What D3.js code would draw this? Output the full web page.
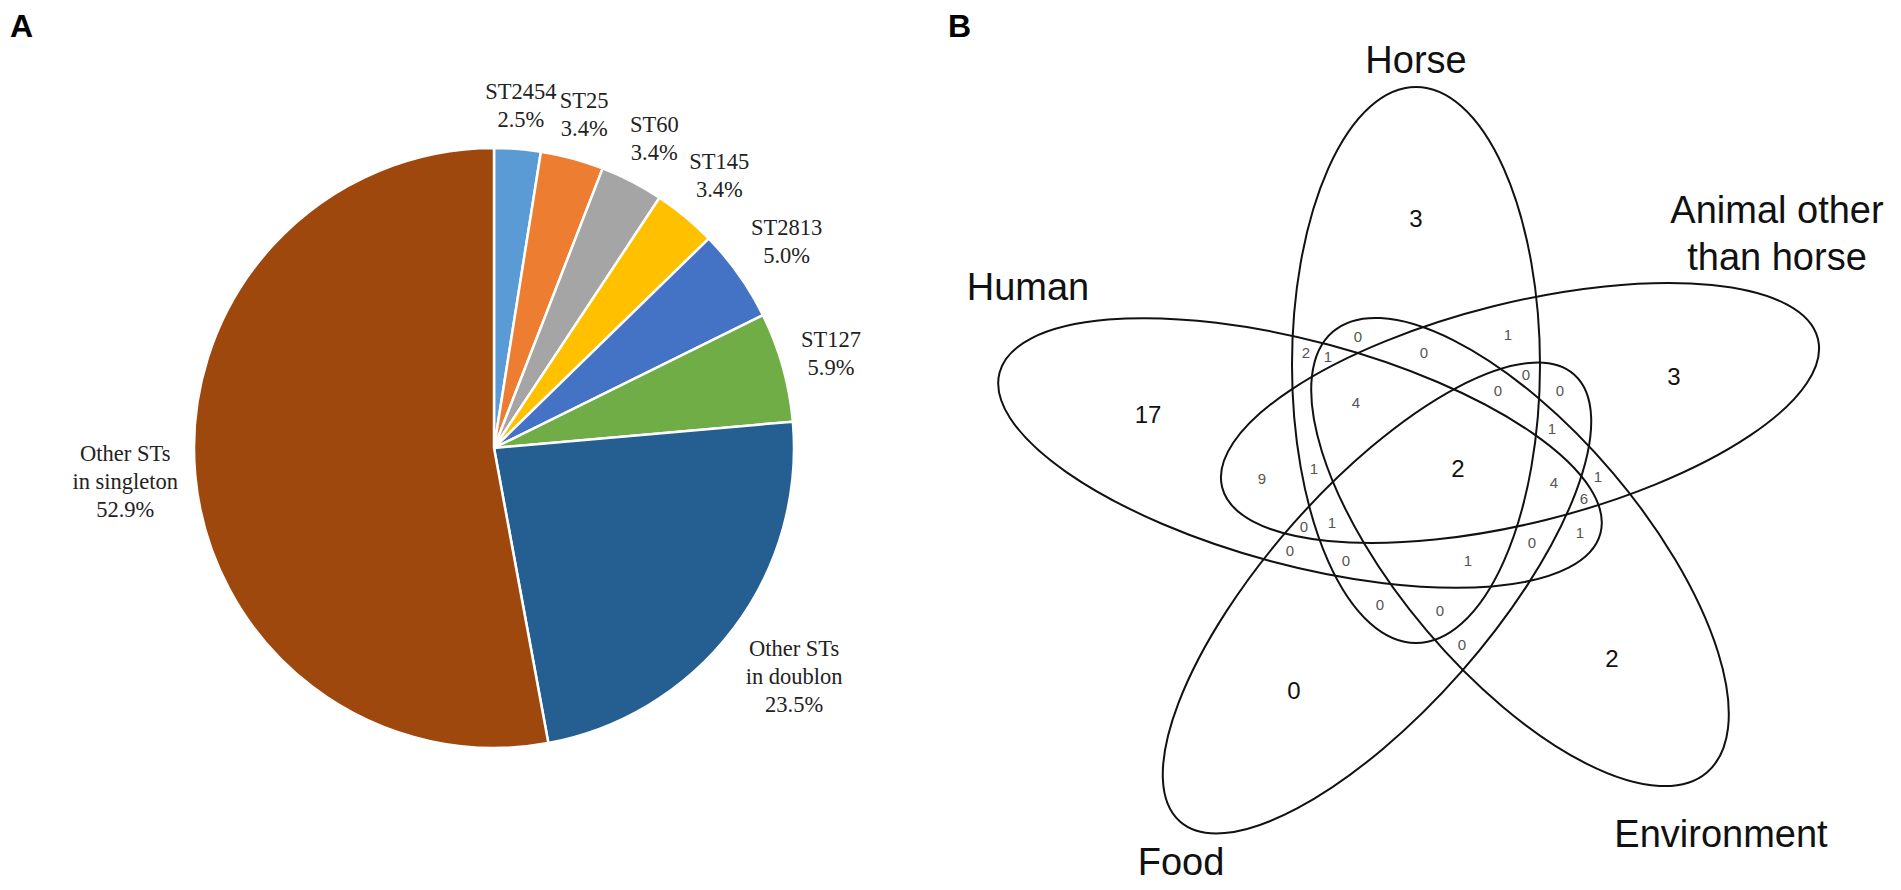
<!DOCTYPE html>
<html>
<head>
<meta charset="utf-8">
<script src="https://cdn.jsdelivr.net/npm/d3@7"></script>
<style>
  body { margin: 0; background: #fff; }
  svg { display: block; }
</style>
</head>
<body>
<svg id="chart" width="1901" height="890"></svg>
<script>
// ---- data, panel A ----
var stNames = ["ST2454", "ST25", "ST60", "ST145", "ST2813", "ST127", "Other STs in doublon", "Other STs in singleton"];
var stLabelLines = [["ST2454"], ["ST25"], ["ST60"], ["ST145"], ["ST2813"], ["ST127"], ["Other STs", "in doublon"], ["Other STs", "in singleton"]];
var stPercent = [2.5, 3.4, 3.4, 3.4, 5.0, 5.9, 23.5, 52.9];

// ---- data, panel B ----
var setNames = ["Human", "Horse", "Animal other than horse", "Environment", "Food"];
var setLetters = ["H", "O", "A", "E", "F"];
var regionKeys = ["H", "O", "A", "E", "F",
  "HO", "HA", "HE", "HF", "OA", "OE", "OF", "AE", "AF", "EF",
  "HOA", "HOE", "HOF", "HAE", "HAF", "HEF", "OAE", "OAF", "OEF", "AEF",
  "HOAE", "HOAF", "HOEF", "HAEF", "OAEF", "HOAEF"];
var regionCounts = [17, 3, 3, 2, 0,
  2, 9, 1, 0, 1, 0, 0, 1, 0, 0,
  1, 1, 0, 6, 0, 0, 0, 0, 0, 1,
  4, 1, 1, 4, 0, 2];

var svg = d3.select("#chart");

// panel letters
svg.append("text").attr("x", 10).attr("y", 37)
  .style("font", "bold 32px 'Liberation Sans', Arial, sans-serif").text("A");
svg.append("text").attr("x", 948).attr("y", 37)
  .style("font", "bold 32px 'Liberation Sans', Arial, sans-serif").text("B");

// ---- Panel A: pie ----
var pieCx = 494, pieCy = 448, pieR = 300;
var color = d3.scaleOrdinal()
  .domain(stNames)
  .range(["#5b9bd5", "#ed7d31", "#a5a5a5", "#ffc000", "#4472c4", "#70ad47", "#255e91", "#9e480e"]);
var pie = d3.pie().sort(null).value(function(d) { return d; });
var arcs = pie(stPercent);
var arc = d3.arc().innerRadius(0).outerRadius(pieR);

var gPie = svg.append("g").attr("transform", "translate(" + pieCx + "," + pieCy + ")");
gPie.selectAll("path.slice")
  .data(arcs)
  .enter()
  .append("path")
    .attr("class", "slice")
    .attr("d", arc)
    .attr("fill", function(d, i) { return color(stNames[i]); })
    .attr("stroke", "#fff")
    .attr("stroke-width", 2.5)
    .attr("stroke-linejoin", "round");

var fmt = d3.format(".1f");
var lineH = 28;
arcs.forEach(function(d, i) {
  var lines = stLabelLines[i].concat([fmt(stPercent[i]) + "%"]);
  var t = gPie.append("text")
    .attr("text-anchor", "middle")
    .attr("fill", "#222")
    .style("font-family", "'Liberation Serif', 'Times New Roman', serif")
    .style("font-size", "22.5px");
  lines.forEach(function(s, j) {
    t.append("tspan").attr("x", 0).attr("y", j * lineH).text(s);
  });
  var bb = t.node().getBBox();
  var a = (d.startAngle + d.endAngle) / 2;
  var ux = Math.sin(a), uy = -Math.cos(a);
  var ext = Math.abs(ux) * bb.width / 2 + Math.abs(uy) * bb.height / 2;
  var dist = pieR + 14 + ext;
  var cx = ux * dist, cy = uy * dist;
  t.attr("transform", "translate(" + (cx - (bb.x + bb.width / 2)) + "," + (cy - (bb.y + bb.height / 2)) + ")");
});

// ---- Panel B: five-set Venn ----
// ellipse layout (major semi-axis rx along rotated x axis)
var ellipses = [
  { cx: 1300, cy: 453, rx: 311, ry: 112, rot: 15 },    // Human
  { cx: 1416, cy: 365, rx: 278, ry: 124, rot: 90 },    // Horse
  { cx: 1520, cy: 413, rx: 307, ry: 110, rot: -14 },   // Animal other than horse
  { cx: 1520, cy: 552, rx: 289, ry: 122, rot: 49.7 },  // Environment
  { cx: 1377, cy: 598, rx: 298, ry: 112, rot: -48.6 }  // Food
];
var setLabelPos = [
  { x: 1028, y: [300] },
  { x: 1416, y: [73] },
  { x: 1777, y: [223, 270] },
  { x: 1721, y: [847] },
  { x: 1181, y: [875] }
];
var setLabelLines = [["Human"], ["Horse"], ["Animal other", "than horse"], ["Environment"], ["Food"]];

function maskAt(px, py) {
  var m = 0;
  ellipses.forEach(function(e, i) {
    var th = e.rot * Math.PI / 180, c = Math.cos(th), s = Math.sin(th);
    var dx = px - e.cx, dy = py - e.cy;
    var u = dx * c + dy * s, v = -dx * s + dy * c;
    if ((u * u) / (e.rx * e.rx) + (v * v) / (e.ry * e.ry) < 1) m |= (1 << i);
  });
  return m;
}

// find a label point for every region: the cell farthest from any boundary
var gx0 = 960, gy0 = 60, gs = 2, nx = 460, ny = 400;
var masks = new Int32Array(nx * ny), dt = new Float32Array(nx * ny);
var i, j, k;
for (j = 0; j < ny; j++)
  for (i = 0; i < nx; i++)
    masks[j * nx + i] = maskAt(gx0 + i * gs, gy0 + j * gs);
for (j = 0; j < ny; j++) {
  for (i = 0; i < nx; i++) {
    k = j * nx + i;
    var m = masks[k];
    var edge = i === 0 || j === 0 || i === nx - 1 || j === ny - 1 ||
      masks[k - 1] !== m || masks[k + 1] !== m || masks[k - nx] !== m || masks[k + nx] !== m;
    dt[k] = edge ? 0 : 1e9;
  }
}
for (j = 1; j < ny; j++)
  for (i = 1; i < nx - 1; i++) {
    k = j * nx + i;
    dt[k] = Math.min(dt[k], dt[k - 1] + 1, dt[k - nx] + 1, dt[k - nx - 1] + 1.414, dt[k - nx + 1] + 1.414);
  }
for (j = ny - 2; j >= 0; j--)
  for (i = nx - 2; i >= 1; i--) {
    k = j * nx + i;
    dt[k] = Math.min(dt[k], dt[k + 1] + 1, dt[k + nx] + 1, dt[k + nx + 1] + 1.414, dt[k + nx - 1] + 1.414);
  }
var best = {};
for (k = 0; k < nx * ny; k++) {
  var mk = masks[k];
  if (!mk) continue;
  if (!best[mk] || dt[k] > best[mk].d) best[mk] = { d: dt[k], x: gx0 + (k % nx) * gs, y: gy0 + Math.floor(k / nx) * gs };
}

function keyToMask(key) {
  var m = 0;
  key.split("").forEach(function(ch) { m |= (1 << setLetters.indexOf(ch)); });
  return m;
}

var gVenn = svg.append("g");
var regions = regionKeys.map(function(key, n) {
  var p = best[keyToMask(key)] || { x: 0, y: 0 };
  return { key: key, count: regionCounts[n], x: p.x, y: p.y, big: key.length === 1 || key.length === 5 };
});

gVenn.selectAll("text.count")
  .data(regions)
  .enter()
  .append("text")
    .attr("class", "count")
    .attr("x", function(d) { return d.x; })
    .attr("y", function(d) { return d.y; })
    .attr("text-anchor", "middle")
    .attr("dominant-baseline", "central")
    .attr("fill", function(d) { return d.big ? "#111" : "#555"; })
    .style("font-family", "'Liberation Sans', Arial, sans-serif")
    .style("font-size", function(d) { return d.big ? "24px" : "15px"; })
    .text(function(d) { return d.count; });

gVenn.selectAll("ellipse")
  .data(ellipses)
  .enter()
  .append("ellipse")
    .attr("cx", 0).attr("cy", 0)
    .attr("rx", function(d) { return d.rx; })
    .attr("ry", function(d) { return d.ry; })
    .attr("transform", function(d) { return "translate(" + d.cx + "," + d.cy + ") rotate(" + d.rot + ")"; })
    .attr("fill", "none")
    .attr("stroke", "#111")
    .attr("stroke-width", 2);

setNames.forEach(function(name, n) {
  var t = gVenn.append("text")
    .attr("text-anchor", "middle")
    .attr("fill", "#111")
    .style("font-family", "'Liberation Sans', Arial, sans-serif")
    .style("font-size", "38px");
  setLabelLines[n].forEach(function(s, j) {
    t.append("tspan").attr("x", setLabelPos[n].x).attr("y", setLabelPos[n].y[j]).text(s);
  });
});
</script>
</body>
</html>
